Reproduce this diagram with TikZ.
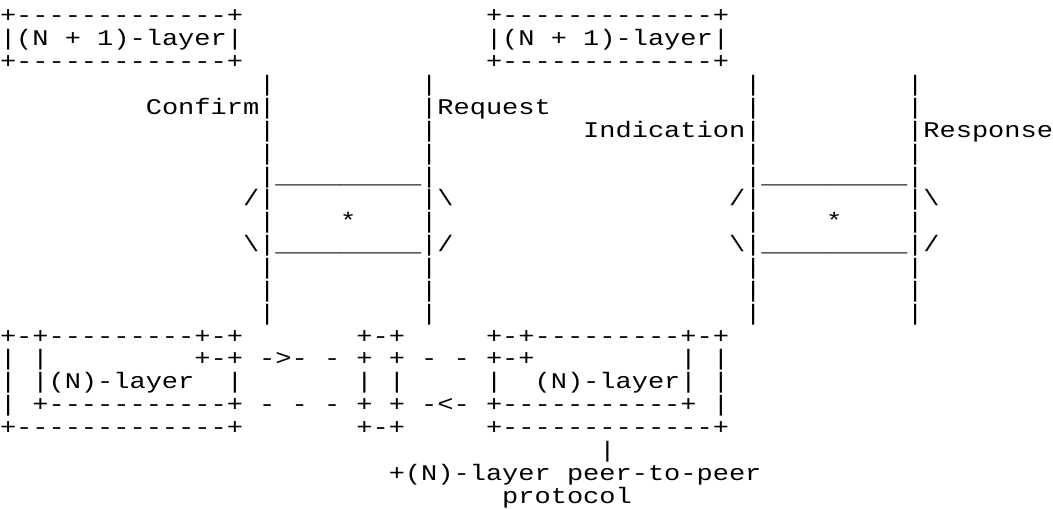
\documentclass[tikz,border=0pt]{standalone}
\usepackage{fontspec}
\newfontfamily\asciifont[FakeStretch=1.2048]{Liberation Mono}
\newcommand\ascR[3]{\node[asc] (r#1c#2) at ({#2*6pt},{-8.50pt-#1*8.47pt}) {#3};}
\newcommand\bsl{\textbackslash}
\newcommand\usc{\_\_\_\_\_\_\_\_\_}
\begin{document}
\begin{tikzpicture}[asc/.style={font=\asciifont\fontsize{8.3}{8.3}\selectfont, inner sep=0pt, outer sep=0pt, anchor=base west}]
\useasboundingbox (0,0) rectangle (390pt,-188.15pt);
% row 0-2: (N+1)-layer boxes
\ascR{0}{0}{+-------------+}
\ascR{0}{30}{+-------------+}
\ascR{1}{0}{|(N}
\ascR{1}{4}{+}
\ascR{1}{6}{1)-layer|}
\ascR{1}{30}{|(N}
\ascR{1}{34}{+}
\ascR{1}{36}{1)-layer|}
\ascR{2}{0}{+-------------+}
\ascR{2}{30}{+-------------+}
% row 3
\ascR{3}{16}{|}
\ascR{3}{26}{|}
\ascR{3}{46}{|}
\ascR{3}{56}{|}
% row 4
\ascR{4}{9}{Confirm|}
\ascR{4}{26}{|Request}
\ascR{4}{46}{|}
\ascR{4}{56}{|}
% row 5
\ascR{5}{16}{|}
\ascR{5}{26}{|}
\ascR{5}{36}{Indication|}
\ascR{5}{56}{|Response}
% row 6
\ascR{6}{16}{|}
\ascR{6}{26}{|}
\ascR{6}{46}{|}
\ascR{6}{56}{|}
% row 7
\ascR{7}{16}{|\usc|}
\ascR{7}{46}{|\usc|}
% row 8
\ascR{8}{15}{/|}
\ascR{8}{26}{|\bsl}
\ascR{8}{45}{/|}
\ascR{8}{56}{|\bsl}
% row 9
\ascR{9}{16}{|}
\ascR{9}{21}{*}
\ascR{9}{26}{|}
\ascR{9}{46}{|}
\ascR{9}{51}{*}
\ascR{9}{56}{|}
% row 10
\ascR{10}{15}{\bsl|\usc|/}
\ascR{10}{45}{\bsl|\usc|/}
% rows 11-13
\ascR{11}{16}{|}
\ascR{11}{26}{|}
\ascR{11}{46}{|}
\ascR{11}{56}{|}
\ascR{12}{16}{|}
\ascR{12}{26}{|}
\ascR{12}{46}{|}
\ascR{12}{56}{|}
\ascR{13}{16}{|}
\ascR{13}{26}{|}
\ascR{13}{46}{|}
\ascR{13}{56}{|}
% row 14
\ascR{14}{0}{+-+---------+-+}
\ascR{14}{22}{+-+}
\ascR{14}{30}{+-+---------+-+}
% row 15
\ascR{15}{0}{|}
\ascR{15}{2}{|}
\ascR{15}{12}{+-+}
\ascR{15}{16}{->-}
\ascR{15}{20}{-}
\ascR{15}{22}{+}
\ascR{15}{24}{+}
\ascR{15}{26}{-}
\ascR{15}{28}{-}
\ascR{15}{30}{+-+}
\ascR{15}{42}{|}
\ascR{15}{44}{|}
% row 16
\ascR{16}{0}{|}
\ascR{16}{2}{|(N)-layer}
\ascR{16}{14}{|}
\ascR{16}{22}{|}
\ascR{16}{24}{|}
\ascR{16}{30}{|}
\ascR{16}{33}{(N)-layer|}
\ascR{16}{44}{|}
% row 17
\ascR{17}{0}{|}
\ascR{17}{2}{+-----------+}
\ascR{17}{16}{-}
\ascR{17}{18}{-}
\ascR{17}{20}{-}
\ascR{17}{22}{+}
\ascR{17}{24}{+}
\ascR{17}{26}{-<-}
\ascR{17}{30}{+-----------+}
\ascR{17}{44}{|}
% row 18
\ascR{18}{0}{+-------------+}
\ascR{18}{22}{+-+}
\ascR{18}{30}{+-------------+}
% rows 19-21
\ascR{19}{37}{|}
\ascR{20}{24}{+(N)-layer}
\ascR{20}{35}{peer-to-peer}
\ascR{21}{31}{protocol}
\end{tikzpicture}
\end{document}
